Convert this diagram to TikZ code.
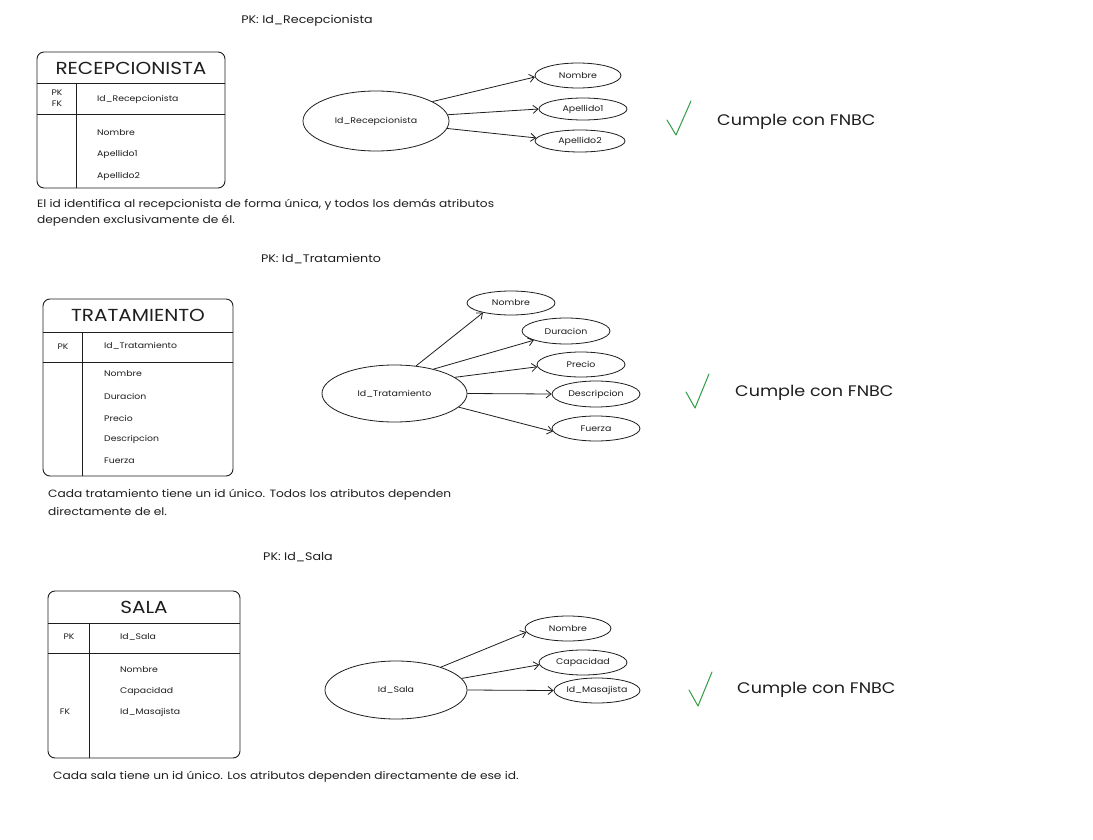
\documentclass[tikz,border=0pt]{standalone}
\usepackage{fontspec}
\setmainfont{Poppins}[FakeStretch=1.15]
\usetikzlibrary{shapes.geometric,arrows.meta}
\definecolor{ink}{HTML}{1E1E1E}
\definecolor{okgreen}{HTML}{2F9E44}
\begin{document}
\begin{tikzpicture}[x=1pt,y=-1pt,
  line/.style={draw=ink, line width=0.8pt},
  tbl/.style={rectangle, draw=ink, line width=0.9pt, rounded corners=7pt, inner sep=0pt},
  ttl/.style={text=ink, inner sep=0pt, font=\fontsize{17.4}{19}\selectfont},
  fld/.style={text=ink, inner sep=0pt, anchor=west, font=\fontsize{8.1}{9}\selectfont},
  key/.style={text=ink, inner sep=0pt, font=\fontsize{8}{9}\selectfont},
  attr/.style={ellipse, draw=ink, line width=0.8pt, inner sep=0pt, text=ink, font=\fontsize{8.2}{9}\selectfont},
  hdr/.style={text=ink, inner sep=0pt, font=\fontsize{11}{12}\selectfont},
  desc/.style={text=ink, inner sep=0pt, anchor=west, font=\fontsize{10.6}{12}\selectfont},
  ok/.style={text=ink, inner sep=0pt, anchor=west, font=\fontsize{15.3}{17}\selectfont},
  chk/.style={draw=okgreen, line width=1pt, line cap=round, line join=round},
  arr/.style={draw=ink, line width=0.8pt, -{Straight Barb[length=5pt,width=8pt]}}
]
\useasboundingbox[fill=white] (0,0) rectangle (1093,840);

% ===== RECEPCIONISTA =====
\node[hdr] (pk1) at (307,21) {PK: Id\_Recepcionista};
\node[tbl, minimum width=188pt, minimum height=136pt] (t1) at (131,120) {};
\node[ttl] (t1t) at (131,68) {RECEPCIONISTA};
\draw[line] (37,83) -- (225,83);
\draw[line] (37,114) -- (225,114);
\draw[line] (76,83) -- (76,188);
\node[key] (t1pk) at (57,93) {PK};
\node[key] (t1fk) at (57,104) {FK};
\node[fld] (t1id) at (97,99) {Id\_Recepcionista};
\node[fld] (t1f1) at (97,133) {Nombre};
\node[fld] (t1f2) at (97,154) {Apellido1};
\node[fld] (t1f3) at (97,176) {Apellido2};
\node[desc] (d1a) at (37,205) {El id identifica al recepcionista de forma única, y todos los demás atributos};
\node[desc] (d1b) at (37,221) {dependen exclusivamente de él.};

\node[attr, minimum width=146pt, minimum height=60pt] (e1) at (376,121) {Id\_Recepcionista};
\node[attr, minimum width=86pt, minimum height=25pt] (e1n) at (578,75.5) {Nombre};
\node[attr, minimum width=88pt, minimum height=22pt] (e1a) at (583,109) {Apellido1};
\node[attr, minimum width=90pt, minimum height=22pt] (e1b) at (580,141) {Apellido2};
\draw[arr] (e1.19) -- (e1n.182);
\draw[arr] (e1.5) -- (e1a.180);
\draw[arr] (e1.-6) -- (e1b.176);
\coordinate (c1a) at (667,120);
\coordinate (c1b) at (676,135);
\coordinate (c1c) at (691,101);
\draw[chk] (c1a) -- (c1b) -- (c1c);
\node[ok] (ok1) at (717,122) {Cumple con FNBC};

% ===== TRATAMIENTO =====
\node[hdr] (pk2) at (321,259) {PK: Id\_Tratamiento};
\node[tbl, minimum width=190pt, minimum height=177pt] (t2) at (138,387.5) {};
\node[ttl] (t2t) at (138,315) {TRATAMIENTO};
\draw[line] (43,332) -- (233,332);
\draw[line] (43,362) -- (233,362);
\draw[line] (82,332) -- (82,476);
\node[key] (t2pk) at (63,347) {PK};
\node[fld] (t2id) at (104,346) {Id\_Tratamiento};
\node[fld] (t2f1) at (104,374) {Nombre};
\node[fld] (t2f2) at (104,396) {Duracion};
\node[fld] (t2f3) at (104,418) {Precio};
\node[fld] (t2f4) at (104,439) {Descripcion};
\node[fld] (t2f5) at (104,461) {Fuerza};
\node[desc] (d2a) at (48,495) {Cada tratamiento tiene un id único. Todos los atributos dependen};
\node[desc] (d2b) at (48,512) {directamente de el.};

\node[attr, minimum width=145pt, minimum height=57pt] (e2) at (394.5,393.5) {Id\_Tratamiento};
\node[attr, minimum width=88pt, minimum height=24pt] (e2n) at (511,303) {Nombre};
\node[attr, minimum width=88pt, minimum height=26pt] (e2d) at (566,331) {Duracion};
\node[attr, minimum width=88pt, minimum height=25pt] (e2p) at (581,364.5) {Precio};
\node[attr, minimum width=88pt, minimum height=26pt] (e2s) at (596,394) {Descripcion};
\node[attr, minimum width=88pt, minimum height=25pt] (e2f) at (596,428.5) {Fuerza};
\draw[arr] (e2.52) -- (e2n.199);
\draw[arr] (e2.32) -- (e2d.196);
\draw[arr] (e2.15) -- (e2p.183);
\draw[arr] (e2.0) -- (e2s.180);
\draw[arr] (e2.-12.5) -- (e2f.184);
\coordinate (c2a) at (686,392);
\coordinate (c2b) at (695,408);
\coordinate (c2c) at (709,374);
\draw[chk] (c2a) -- (c2b) -- (c2c);
\node[ok] (ok2) at (735,393) {Cumple con FNBC};

% ===== SALA =====
\node[hdr] (pk3) at (298,557) {PK: Id\_Sala};
\node[tbl, minimum width=192pt, minimum height=167pt] (t3) at (144,674.5) {};
\node[ttl] (t3t) at (144,607) {SALA};
\draw[line] (48,623) -- (240,623);
\draw[line] (48,653) -- (240,653);
\draw[line] (89,623) -- (89,758);
\node[key] (t3pk) at (69,637) {PK};
\node[key] (t3fk) at (65,712) {FK};
\node[fld] (t3id) at (120,637) {Id\_Sala};
\node[fld] (t3f1) at (120,670) {Nombre};
\node[fld] (t3f2) at (120,691) {Capacidad};
\node[fld] (t3f3) at (120,712) {Id\_Masajista};
\node[desc] (d3a) at (53,777) {Cada sala tiene un id único. Los atributos dependen directamente de ese id.};

\node[attr, minimum width=142pt, minimum height=58pt] (e3) at (396,690) {Id\_Sala};
\node[attr, minimum width=86pt, minimum height=25pt] (e3n) at (568,628.5) {Nombre};
\node[attr, minimum width=88pt, minimum height=25pt] (e3c) at (583,662.5) {Capacidad};
\node[attr, minimum width=86pt, minimum height=25pt] (e3m) at (597,690.5) {Id\_Masajista};
\draw[arr] (e3.27) -- (e3n.185);
\draw[arr] (e3.10.6) -- (e3c.183);
\draw[arr] (e3.0) -- (e3m.180);
\coordinate (c3a) at (689,690);
\coordinate (c3b) at (698,706);
\coordinate (c3c) at (712,672);
\draw[chk] (c3a) -- (c3b) -- (c3c);
\node[ok] (ok3) at (737,690) {Cumple con FNBC};
\end{tikzpicture}
\end{document}
